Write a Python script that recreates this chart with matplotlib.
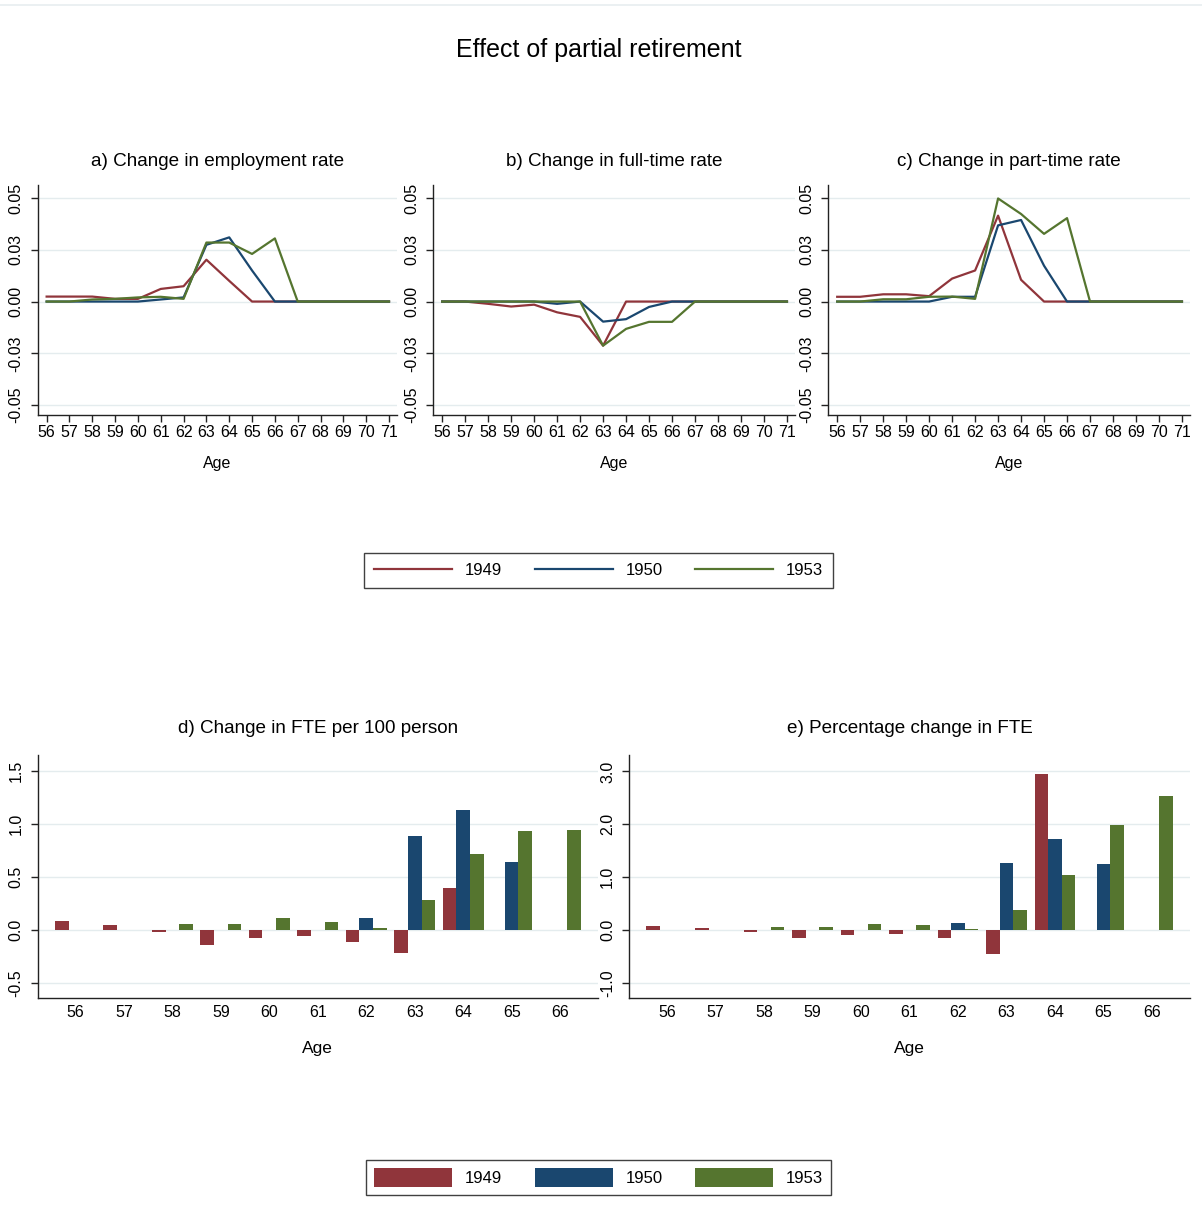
import numpy as np
import matplotlib
matplotlib.use("Agg")
import matplotlib.pyplot as plt
from matplotlib.lines import Line2D
from matplotlib.patches import Patch

plt.rcParams['font.family'] = ['Liberation Sans', 'DejaVu Sans']

# cohorts and colours
cohorts = ["1949", "1950", "1953"]
colors = ["#90353b", "#1a476f", "#55752f"]

# top row: ages 56..71
ages_line = list(range(56, 72))

emp_1949 = [0.0024, 0.0024, 0.0024, 0.0013, 0.0013, 0.0061, 0.0074, 0.0202, 0.0100, 0, 0, 0, 0, 0, 0, 0]
emp_1950 = [0, 0, 0, 0, 0, 0.0010, 0.0020, 0.0274, 0.0310, 0.0150, 0, 0, 0, 0, 0, 0]
emp_1953 = [0, 0, 0.0010, 0.0013, 0.0020, 0.0023, 0.0013, 0.0285, 0.0285, 0.0230, 0.0305, 0, 0, 0, 0, 0]

ft_1949 = [0, 0, -0.0011, -0.0024, -0.0015, -0.0052, -0.0074, -0.0213, 0, 0, 0, 0, 0, 0, 0, 0]
ft_1950 = [0, 0, 0, 0, 0, -0.0011, 0, -0.0097, -0.0085, -0.0026, 0, 0, 0, 0, 0, 0]
ft_1953 = [0, 0, 0, 0, 0, 0, 0, -0.0213, -0.0132, -0.0098, -0.0098, 0, 0, 0, 0, 0]

pt_1949 = [0.0023, 0.0023, 0.0035, 0.0035, 0.0026, 0.0111, 0.0150, 0.0415, 0.0105, 0, 0, 0, 0, 0, 0, 0]
pt_1950 = [0, 0, 0, 0, 0, 0.0023, 0.0023, 0.0368, 0.0394, 0.0173, 0, 0, 0, 0, 0, 0]
pt_1953 = [0, 0, 0.0011, 0.0011, 0.0023, 0.0024, 0.0013, 0.0498, 0.0423, 0.0327, 0.0403, 0, 0, 0, 0, 0]

line_ticks = [-0.05, -0.025, 0.0, 0.025, 0.05]
line_ticklabels = ["-0.05", "-0.03", "0.00", "0.03", "0.05"]

# bottom row: ages 56..66 (nan = no bar)
nan = np.nan
ages_bar = list(range(56, 67))

fte_1949 = [0.085, 0.050, -0.016, -0.138, -0.075, -0.053, -0.113, -0.214, 0.393, nan, nan]
fte_1950 = [nan, nan, nan, nan, nan, nan, 0.116, 0.890, 1.135, 0.645, nan]
fte_1953 = [nan, nan, 0.060, 0.060, 0.116, 0.079, 0.022, 0.286, 0.720, 0.937, 0.947]

pct_1949 = [0.088, 0.044, -0.025, -0.151, -0.082, -0.063, -0.151, -0.447, 2.95, nan, nan]
pct_1950 = [nan, nan, nan, nan, nan, nan, 0.138, 1.27, 1.73, 1.25, nan]
pct_1953 = [nan, nan, 0.063, 0.063, 0.126, 0.094, 0.025, 0.39, 1.044, 1.99, 2.54]

fte_ticks = [-0.5, 0.0, 0.5, 1.0, 1.5]
fte_ticklabels = ["-0.5", "0.0", "0.5", "1.0", "1.5"]
pct_ticks = [-1.0, 0.0, 1.0, 2.0, 3.0]
pct_ticklabels = ["-1.0", "0.0", "1.0", "2.0", "3.0"]

W, H = 1202, 1214
fig = plt.figure(figsize=(W / 100, H / 100), dpi=100)
fig.patch.set_facecolor("white")


def px_axes(x0, x1, y0, y1):
    return fig.add_axes([x0 / W, 1 - y1 / H, (x1 - x0) / W, (y1 - y0) / H])


def style(ax, ticks, ticklabels, ylim):
    for s in ["top", "right"]:
        ax.spines[s].set_visible(False)
    for s in ["left", "bottom"]:
        ax.spines[s].set_linewidth(1.0)
        ax.spines[s].set_color("#222222")
    ax.set_ylim(*ylim)
    ax.set_yticks(ticks)
    ax.set_yticklabels(ticklabels, rotation=90, va="center")
    ax.yaxis.grid(True, color="#e4ecee", lw=1.0)
    ax.set_axisbelow(True)
    ax.tick_params(axis="both", direction="out", length=5, width=1.0,
                   labelsize=11.5, color="#222222")
    ax.tick_params(axis="y", pad=5)
    ax.tick_params(axis="x", pad=2)


# faint frame line at top
fig.add_artist(Line2D([0, 1], [1 - 5 / H, 1 - 5 / H], color="#e8eef0", lw=1.2))

fig.text(599 / W, 1 - 50 / H, "Effect of partial retirement", ha="center", va="center",
         fontsize=18)

# ---- top row line charts ----
top_panels = [
    ("a) Change in employment rate", [emp_1949, emp_1950, emp_1953], (37.5, 397)),
    ("b) Change in full-time rate", [ft_1949, ft_1950, ft_1953], (433, 795)),
    ("c) Change in part-time rate", [pt_1949, pt_1950, pt_1953], (828, 1190)),
]
for title, series, (x0, x1) in top_panels:
    ax = px_axes(x0, x1, 185, 415)
    for vals, c in zip(series, colors):
        ax.plot(ages_line, vals, color=c, lw=1.6)
    ax.set_xlim(55.6, 71.35)
    ax.set_xticks(ages_line)
    style(ax, line_ticks, line_ticklabels, (-0.0548, 0.0563))
    ax.set_title(title, fontsize=13.6, pad=14)
    ax.set_xlabel("Age", fontsize=11.5)
    ax.xaxis.set_label_coords(0.5, -0.18)
    ax.xaxis.label.set_va("top")

# top legend
line_handles = [Line2D([], [], color=c, lw=1.6) for c in colors]
leg = fig.legend(line_handles, cohorts, loc="center", bbox_to_anchor=(598.5 / W, 1 - 570.5 / H),
                 ncol=3, fontsize=12, frameon=True, fancybox=False, handlelength=4.68,
                 handletextpad=0.78, columnspacing=1.92, borderpad=0.62, borderaxespad=0)
leg.get_frame().set_edgecolor("#111111")
leg.get_frame().set_linewidth(1.0)

# ---- bottom row bar charts ----
bw = 0.28
offsets = [-bw, 0.0, bw]
ages_arr = np.array(ages_bar)
bottom_panels = [
    ("d) Change in FTE per 100 person", [fte_1949, fte_1950, fte_1953], (37.5, 598),
     fte_ticks, fte_ticklabels, (-0.64, 1.65)),
    ("e) Percentage change in FTE", [pct_1949, pct_1950, pct_1953], (629, 1190),
     pct_ticks, pct_ticklabels, (-1.28, 3.31)),
]
for title, series, (x0, x1), ticks, tlabels, ylim in bottom_panels:
    ax = px_axes(x0, x1, 755, 998)
    for vals, c, off in zip(series, colors, offsets):
        ax.bar(ages_arr + off, vals, width=bw, color=c, linewidth=0)
    ax.set_xlim(55.22, 66.78)
    ax.set_xticks(ages_bar)
    style(ax, ticks, tlabels, ylim)
    ax.tick_params(axis="x", length=0, pad=5)
    ax.set_title(title, fontsize=13.6, pad=16)
    ax.set_xlabel("Age", fontsize=12.5)
    ax.xaxis.set_label_coords(0.5, -0.175)
    ax.xaxis.label.set_va("top")

# bottom legend
bar_handles = [Patch(facecolor=c, edgecolor="none") for c in colors]
leg2 = fig.legend(bar_handles, cohorts, loc="center", bbox_to_anchor=(598.5 / W, 1 - 1177.5 / H),
                  ncol=3, fontsize=12, frameon=True, fancybox=False, handlelength=4.68,
                  handleheight=1.3, handletextpad=0.78, columnspacing=1.92, borderpad=0.5,
                  borderaxespad=0)
leg2.get_frame().set_edgecolor("#111111")
leg2.get_frame().set_linewidth(1.0)

fig.savefig("out.png", dpi=100, facecolor="white")
